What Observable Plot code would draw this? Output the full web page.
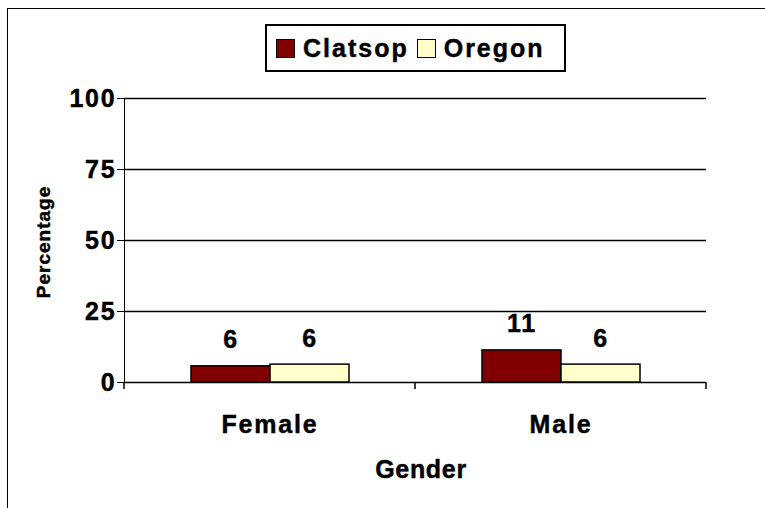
<!DOCTYPE html>
<html>
<head>
<meta charset="utf-8">
<script src="https://cdn.jsdelivr.net/npm/d3@7"></script>
<script src="https://cdn.jsdelivr.net/npm/@observablehq/plot@0.6"></script>
<style>
  html, body { margin: 0; padding: 0; background: #fff; }
  #wrap { position: relative; width: 765px; height: 508px; overflow: hidden; background: #fff;
          font-family: "Liberation Sans", Arial, sans-serif; font-weight: bold; color: #000; }
  #frame { position: absolute; left: 7px; top: 8px; width: 800px; height: 600px;
           border-top: 1.5px solid #000; border-left: 1.5px solid #000; }
  #chart { position: absolute; left: 0; top: 0; }
  #chart svg text { stroke: #000; stroke-width: 0.45px; }
  .lbl { position: absolute; white-space: nowrap; line-height: 1; transform: translate(-50%, -50%);
         -webkit-text-stroke: 0.45px #000; }
  #legend { position: absolute; left: 265px; top: 24px; width: 297px; height: 44px;
            border: 2px solid #000; background: #fff; display: flex; align-items: center;
            box-sizing: content-box; padding: 0; }
  .sw { width: 17px; height: 17px; border: 1.5px solid #000; margin-left: 9px; margin-right: 8px; flex: none; }
  .lt { font-size: 25px; letter-spacing: 2px; line-height: 1; -webkit-text-stroke: 0.45px #000; }
</style>
</head>
<body>
<div id="wrap">
  <div id="frame"></div>
  <div id="chart"></div>
  <div id="legend"></div>
  <div class="lbl" id="ylab" style="left:43px; top:242px; font-size:19px; letter-spacing:1px; transform: translate(-50%,-50%) rotate(-90deg);"></div>
  <div class="lbl" id="xlab" style="left:421px; top:469px; font-size:25px; letter-spacing:0.7px;"></div>
</div>
<script>
const genders = ["Female", "Male"];
const seriesNames = ["Clatsop", "Oregon"];
const clatsop = [5.7, 11.3];
const oregon = [6.3, 6.3];
const valueLabels = [[6, 11], [6, 6]];
const colors = ["#800000", "#FFFFCC"];
const yTicks = [0, 25, 50, 75, 100];
const yTitle = "Percentage";
const xTitle = "Gender";

const seriesValues = [clatsop, oregon];
const data = [];
genders.forEach((g, gi) => {
  seriesNames.forEach((s, si) => {
    data.push({gender: g, series: s, value: seriesValues[si][gi], label: valueLabels[si][gi]});
  });
});

const W = 765, H = 508;
const chart = Plot.plot({
  width: W,
  height: H,
  marginLeft: 124,
  marginRight: 59,
  marginTop: 98,
  marginBottom: 126,
  style: {
    fontFamily: '"Liberation Sans", Arial, sans-serif',
    fontWeight: "bold",
    fontSize: "25px",
    letterSpacing: "1.8px",
    color: "#000",
    background: "transparent",
    overflow: "visible"
  },
  fx: {domain: genders, padding: 0, label: null, tickSize: 0, tickPadding: 33},
  x: {domain: seriesNames, paddingInner: 0, paddingOuter: 0.82, axis: null},
  y: {domain: [0, 100], ticks: yTicks, tickSize: 7, tickPadding: 1, label: null, line: true},
  color: {domain: seriesNames, range: colors},
  marks: [
    Plot.ruleY(yTicks, {stroke: "#000", strokeWidth: 1.5}),
    Plot.barY(data, {fx: "gender", x: "series", y: "value", fill: "series", stroke: "#000", strokeWidth: 1.5}),
    Plot.text(data, {fx: "gender", x: "series", y: "value", text: "label", dy: -18, lineAnchor: "bottom", fill: "#000"})
  ]
});
document.getElementById("chart").appendChild(chart);

// boundary ticks on the category axis, positioned from the plot's own scales
const svg = chart.tagName.toLowerCase() === "svg" ? chart : chart.querySelector("svg");
const fxs = chart.scale("fx");
const ys = chart.scale("y");
const band = d3.scaleBand().domain(fxs.domain).range(fxs.range)
  .paddingInner(fxs.paddingInner || 0).paddingOuter(fxs.paddingOuter || 0);
const yLin = d3.scaleLinear().domain(ys.domain).range(ys.range);
const edges = Array.from(new Set(genders.flatMap(g => [band(g), band(g) + band.bandwidth()])));
d3.select(svg).append("g")
  .selectAll("line").data(edges).join("line")
  .attr("x1", d => d).attr("x2", d => d)
  .attr("y1", yLin(0)).attr("y2", yLin(0) + 7)
  .attr("stroke", "#000").attr("stroke-width", 1.5);

// legend
const legend = document.getElementById("legend");
seriesNames.forEach((s, i) => {
  const sw = document.createElement("span");
  sw.className = "sw";
  sw.style.background = colors[i];
  if (i > 0) sw.style.marginLeft = "8px";
  legend.appendChild(sw);
  const t = document.createElement("span");
  t.className = "lt";
  t.textContent = s;
  legend.appendChild(t);
});
document.getElementById("ylab").textContent = yTitle;
document.getElementById("xlab").textContent = xTitle;
</script>
</body>
</html>
